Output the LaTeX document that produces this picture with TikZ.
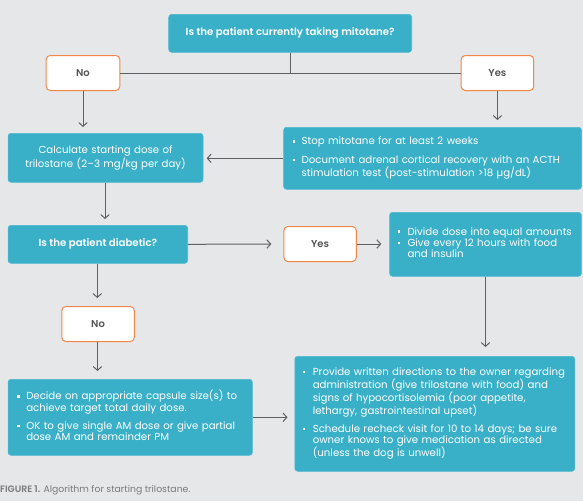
\documentclass[tikz,border=0pt]{standalone}
\usepackage{fontspec}
\setmainfont{Poppins}[BoldFont={Poppins SemiBold}]
\usetikzlibrary{arrows.meta}
\definecolor{bg}{HTML}{E6E7E9}
\definecolor{teal}{HTML}{3AB0C8}
\definecolor{orng}{HTML}{F3874A}
\definecolor{ln}{HTML}{5F6062}
\definecolor{dtxt}{HTML}{555658}
\definecolor{cap}{HTML}{7A7B7D}
\newcommand\bl{\raisebox{2.3pt}{\rule{2.5pt}{2.5pt}}}
\tikzset{
  tbox/.style={draw=teal!90!white, line width=0.6pt, fill=teal, rounded corners=3pt, text=white, anchor=north west, inner ysep=0pt,
    font=\fontsize{10.2}{11.3}\selectfont},
  qbox/.style={tbox, font=\fontsize{10.2}{12}\selectfont\bfseries, align=center},
  obox/.style={draw=orng, line width=1pt, fill=white, rounded corners=4pt, anchor=north west, text=dtxt,
    font=\fontsize{10}{12}\selectfont\bfseries, align=center, inner sep=0pt},
  conn/.style={draw=ln, line width=1pt},
  arr/.style={conn, -{Straight Barb[length=3.8pt,width=8.5pt]}},
}
\begin{document}
\begin{tikzpicture}[x=1pt,y=-1pt]
\fill[bg] (0,0) rectangle (583,501);
\useasboundingbox (0,0) rectangle (583,501);
% top question
\node[qbox, minimum width=243, minimum height=38] (q) at (168.4,14) {Is the patient currently taking mitotane?};
\node[obox, minimum width=73.6, minimum height=35] (no1) at (45.7,55) {No};
\node[obox, minimum width=72.5, minimum height=35] (yes1) at (460.7,55) {Yes};
% calc
\node[tbox, minimum width=195, minimum height=49, align=center, inner xsep=0pt, text width=195] (calc) at (7.8,133)
  {Calculate starting dose of\\trilostane (2--3 mg/kg per day)};
% stop
\node[tbox, minimum width=298, minimum height=62, inner xsep=9pt, text width=280, align=left] (stop) at (283.3,127)
  {\begin{tabular}{@{}p{9pt}@{}l@{}}
   \bl & Stop mitotane for at least 2 weeks\\[7.2pt]
   \bl & Document adrenal cortical recovery with an ACTH\\
       & stimulation test (post-stimulation >18 µg/dL)
   \end{tabular}};
% diabetic
\node[qbox, minimum width=179.6, minimum height=38] (diab) at (7.8,225) {Is the patient diabetic?};
\node[obox, minimum width=72.5, minimum height=35] (yes2) at (283.3,226) {Yes};
\node[tbox, minimum width=191.8, minimum height=64, inner xsep=7.8pt, text width=176, align=left] (div) at (389.3,212)
  {\begin{tabular}{@{}p{10pt}@{}l@{}}
   \bl & Divide dose into equal amounts\\
   \bl & Give every 12 hours with food\\
       & and insulin
   \end{tabular}};
\node[obox, minimum width=72.5, minimum height=35] (no2) at (61.3,306) {No};
% decide
\node[tbox, minimum width=244.3, minimum height=76, inner xsep=9pt, text width=226, align=left] (dec) at (7.8,379)
  {\begin{tabular}{@{}p{9pt}@{}l@{}}
   \bl & Decide on appropriate capsule size(s) to\\
       & achieve target total daily dose.\\[7.2pt]
   \bl & OK to give single AM dose or give partial\\
       & dose AM and remainder PM
   \end{tabular}};
% provide
\node[tbox, minimum width=280, minimum height=115, inner xsep=7.8pt, text width=264, align=left] (prov) at (294.5,356)
  {\begin{tabular}{@{}p{10pt}@{}l@{}}
   \bl & Provide written directions to the owner regarding\\
       & administration (give trilostane with food) and\\
       & signs of hypocortisolemia (poor appetite,\\
       & lethargy, gastrointestinal upset)\\[7.2pt]
   \bl & Schedule recheck visit for 10 to 14 days; be sure\\
       & owner knows to give medication as directed\\
       & (unless the dog is unwell)
   \end{tabular}};
% caption
\node[anchor=west, inner sep=0pt, text=cap, font=\fontsize{9.3}{11}\selectfont] (caption) at (0,490)
  {\textbf{FIGURE 1.} Algorithm for starting trilostane.};
% connectors
\draw[conn] (q.south) -- (q.south |- no1.east);
\draw[conn] (no1.east) -- (yes1.west);
\draw[arr, shorten >=6pt] (no1.south) -- (no1.south |- calc.north);
\draw[arr, shorten >=7pt] (yes1.south) -- (yes1.south |- stop.north);
\draw[arr, shorten >=3.3pt] (stop.west) -- (stop.west -| calc.east);
\draw[arr, shorten >=6pt] ([xshift=-0.6pt]calc.south) -- ([xshift=-0.6pt]calc.south |- diab.north);
\draw[arr, shorten >=12pt] (diab.east) -- (yes2.west);
\draw[arr, shorten >=8pt] (yes2.east) -- (yes2.east -| div.west);
\draw[arr, shorten >=8pt] ([xshift=-0.6pt]diab.south) -- ([xshift=-0.6pt]diab.south |- no2.north);
\draw[arr, shorten >=8pt] ([xshift=-0.6pt]no2.south) -- ([xshift=-0.6pt]no2.south |- dec.north);
\draw[arr, shorten >=7pt] (dec.east) -- (dec.east -| prov.west);
\draw[arr, shorten >=9pt] (div.south) -- (div.south |- prov.north);
\end{tikzpicture}
\end{document}
